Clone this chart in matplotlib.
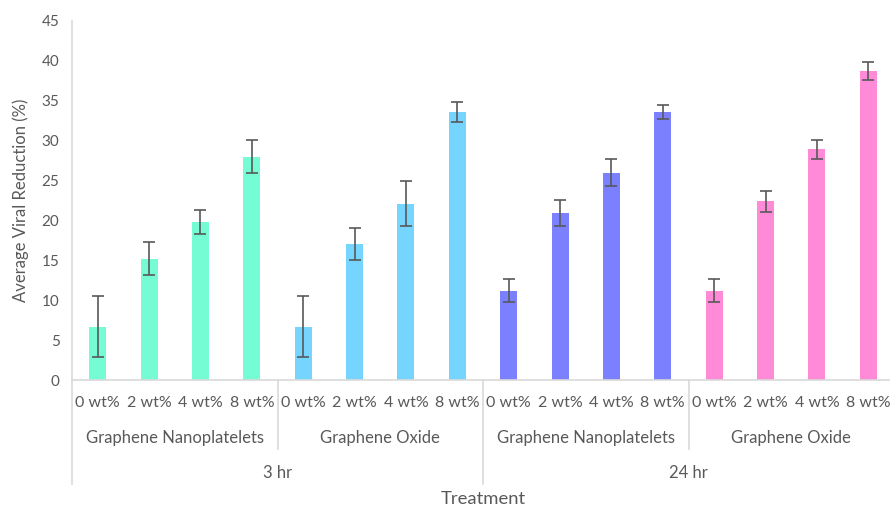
import matplotlib
matplotlib.use("Agg")
import matplotlib.pyplot as plt
from matplotlib.lines import Line2D
import matplotlib.transforms as mtransforms

plt.rcParams['font.family'] = ['Lato', 'DejaVu Sans']

# ---- data ----
wt_labels = ["0 wt%", "2 wt%", "4 wt%", "8 wt%"]
materials = ["Graphene Nanoplatelets", "Graphene Oxide"]
times = ["3 hr", "24 hr"]

gnp_3hr = [6.7, 15.2, 19.8, 28.0]
go_3hr = [6.7, 17.1, 22.1, 33.6]
gnp_24hr = [11.2, 20.9, 26.0, 33.6]
go_24hr = [11.2, 22.4, 28.9, 38.7]

gnp_3hr_err = [3.8, 2.1, 1.5, 2.1]
go_3hr_err = [3.8, 2.0, 2.85, 1.2]
gnp_24hr_err = [1.45, 1.6, 1.7, 0.9]
go_24hr_err = [1.45, 1.3, 1.2, 1.15]

colors = ["#75FCD5", "#75D5FE", "#7B80FE", "#FF8AD8"]

series = [gnp_3hr, go_3hr, gnp_24hr, go_24hr]
errors = [gnp_3hr_err, go_3hr_err, gnp_24hr_err, go_24hr_err]

fig = plt.figure(figsize=(8.9, 5.09), dpi=100)
ax = fig.add_axes([72/890, 1 - 380/509, (894-72)/890, (380-21)/509])

text_color = "#595959"
line_color = "#D9D9D9"

for g, (vals, errs) in enumerate(zip(series, errors)):
    xs = [g*4 + i for i in range(4)]
    ax.bar(xs, vals, width=0.33, color=colors[g], zorder=2)
    ax.errorbar(xs, vals, yerr=errs, fmt='none', ecolor="#595959",
                elinewidth=1.2, capsize=4, capthick=1.2, zorder=3)

ax.set_xlim(-0.5, 15.5)
ax.set_ylim(0, 45)
ax.set_yticks(range(0, 46, 5))
ax.tick_params(axis='y', length=0, labelsize=11, labelcolor=text_color, pad=9)
ax.set_xticks([])
for s in ['top', 'right']:
    ax.spines[s].set_visible(False)
ax.spines['left'].set_color(line_color)
ax.spines['bottom'].set_color(line_color)
ax.spines['left'].set_linewidth(1.2)
ax.spines['bottom'].set_linewidth(1.2)

ax.set_ylabel("Average Viral Reduction (%)", fontsize=12, color=text_color, labelpad=9)

# multi-level category labels
trans = mtransforms.blended_transform_factory(ax.transData, fig.transFigure)

def fy(px):
    return 1 - px/509

for g in range(4):
    for i in range(4):
        ax.text(g*4 + i, fy(403), wt_labels[i], transform=trans, ha='center',
                va='center', fontsize=11.5, color=text_color)
    ax.text(g*4 + 1.5, fy(437.5), materials[g % 2], transform=trans, ha='center',
            va='center', fontsize=12, color=text_color)
for t in range(2):
    ax.text(t*8 + 3.5, fy(472.5), times[t], transform=trans, ha='center',
            va='center', fontsize=12, color=text_color)

ax.text(7.5, fy(499), "Treatment", transform=trans, ha='center', va='center',
        fontsize=13.3, color=text_color)

# separators
for xb in [3.5, 11.5]:
    ax.add_line(Line2D([xb, xb], [fy(380), fy(449)], transform=trans,
                       color=line_color, lw=1.2, clip_on=False))
for xb in [-0.5, 7.5]:
    ax.add_line(Line2D([xb, xb], [fy(380), fy(484)], transform=trans,
                       color=line_color, lw=1.2, clip_on=False))

fig.savefig("out.png", dpi=100)
